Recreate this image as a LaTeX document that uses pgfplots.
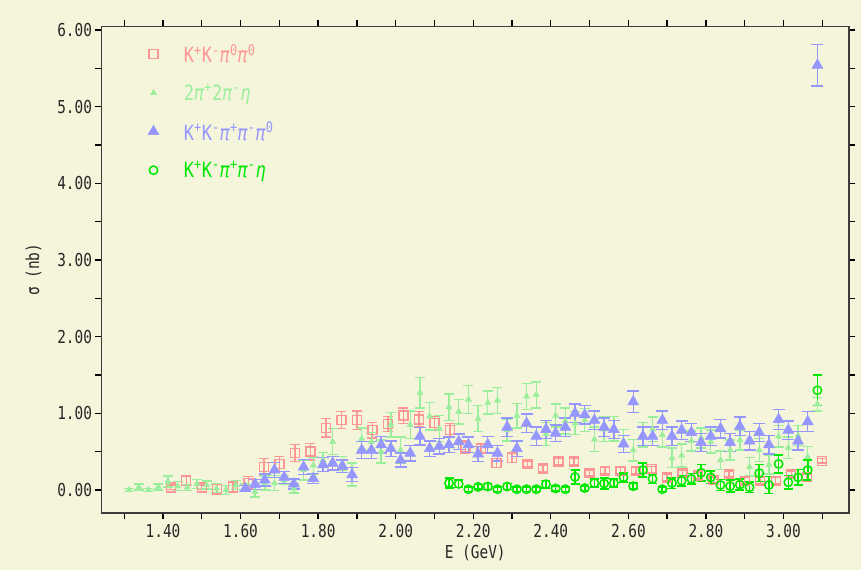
\documentclass[border=0pt]{standalone}
\usepackage{fontspec}
\usepackage{pgfplots}
\usepackage{pgfplotstable}
\pgfplotsset{compat=1.18}

\newfontfamily\plotfont[FakeStretch=0.81]{DejaVu Sans Mono}

\definecolor{bgc}{RGB}{245,245,220}
\definecolor{kkpizpiz}{RGB}{255,150,150}
\definecolor{fourpieta}{RGB}{155,238,155}
\definecolor{kkpipipiz}{RGB}{150,150,255}
\definecolor{kkpipieta}{RGB}{0,232,0}
\definecolor{framec}{RGB}{60,60,60}

% K+K- pi0 pi0
\pgfplotstableread{
E s e
1.42 0.035 0.03
1.46 0.12 0.06
1.50 0.035 0.03
1.54 0.01 0.06
1.58 0.04 0.07
1.62 0.095 0.08
1.66 0.30 0.11
1.70 0.34 0.10
1.74 0.48 0.11
1.78 0.50 0.11
1.82 0.81 0.12
1.86 0.91 0.11
1.90 0.91 0.12
1.94 0.78 0.10
1.98 0.86 0.10
2.02 0.97 0.10
2.06 0.92 0.10
2.10 0.87 0.09
2.14 0.78 0.09
2.18 0.56 0.08
2.22 0.54 0.06
2.26 0.35 0.06
2.30 0.42 0.06
2.34 0.34 0.04
2.38 0.28 0.04
2.42 0.37 0.04
2.46 0.37 0.04
2.50 0.22 0.04
2.54 0.25 0.04
2.58 0.25 0.04
2.62 0.25 0.04
2.66 0.27 0.04
2.70 0.165 0.04
2.74 0.22 0.04
2.78 0.19 0.04
2.82 0.13 0.04
2.86 0.21 0.04
2.90 0.12 0.04
2.94 0.12 0.04
2.98 0.12 0.04
3.02 0.21 0.04
3.06 0.17 0.04
3.10 0.38 0.03
}\tabKKpizpiz

% 2pi+ 2pi- eta
\pgfplotstableread{
E s e
1.3125 0.00 0.02
1.3375 0.04 0.04
1.3625 0.00 0.02
1.3875 0.04 0.04
1.4125 0.11 0.07
1.4375 0.05 0.06
1.4625 0.035 0.04
1.4875 0.08 0.06
1.5125 0.065 0.05
1.5375 0.02 0.06
1.5625 0.00 0.06
1.5875 0.065 0.06
1.6125 0.03 0.05
1.6375 -0.02 0.07
1.6625 0.09 0.09
1.6875 0.09 0.10
1.7125 0.13 0.06
1.7375 0.02 0.06
1.7625 0.26 0.13
1.7875 0.32 0.11
1.8125 0.39 0.10
1.8375 0.63 0.17
1.8625 0.35 0.09
1.8875 0.20 0.15
1.9125 0.67 0.14
1.9375 0.63 0.12
1.9625 0.50 0.15
1.9875 0.85 0.16
2.0125 0.52 0.17
2.0375 0.85 0.18
2.0625 1.27 0.20
2.0875 0.96 0.18
2.1125 0.80 0.17
2.1375 1.08 0.17
2.1625 1.02 0.16
2.1875 1.18 0.18
2.2125 0.93 0.17
2.2375 1.14 0.15
2.2625 1.17 0.17
2.2875 0.78 0.14
2.3125 0.97 0.16
2.3375 1.22 0.17
2.3625 1.24 0.17
2.3875 0.73 0.15
2.4125 0.97 0.15
2.4375 0.90 0.17
2.4625 0.87 0.15
2.4875 0.91 0.15
2.5125 0.66 0.16
2.5375 0.79 0.16
2.5625 0.80 0.16
2.5875 0.64 0.15
2.6125 0.52 0.14
2.6375 0.72 0.16
2.6625 0.79 0.16
2.6875 0.72 0.16
2.7125 0.42 0.13
2.7375 0.45 0.15
2.7625 0.64 0.13
2.7875 0.68 0.13
2.8125 0.63 0.15
2.8375 0.39 0.12
2.8625 0.52 0.13
2.8875 0.65 0.13
2.9125 0.30 0.12
2.9375 0.52 0.15
2.9625 0.33 0.12
2.9875 0.70 0.14
3.0125 0.55 0.14
3.0375 0.71 0.13
3.0625 0.43 0.14
3.0875 1.12 0.09
}\tabFourPiEta

% K+K- pi+ pi- pi0
\pgfplotstableread{
E s e
1.6125 0.02 0.04
1.6375 0.075 0.065
1.6625 0.13 0.08
1.6875 0.26 0.10
1.7125 0.165 0.08
1.7375 0.08 0.065
1.7625 0.30 0.10
1.7875 0.15 0.065
1.8125 0.33 0.09
1.8375 0.35 0.09
1.8625 0.31 0.08
1.8875 0.20 0.09
1.9125 0.52 0.11
1.9375 0.52 0.11
1.9625 0.59 0.11
1.9875 0.54 0.10
2.0125 0.39 0.09
2.0375 0.48 0.10
2.0625 0.70 0.115
2.0875 0.54 0.10
2.1125 0.57 0.10
2.1375 0.59 0.10
2.1625 0.63 0.10
2.1875 0.59 0.10
2.2125 0.47 0.10
2.2375 0.59 0.11
2.2625 0.48 0.10
2.2875 0.82 0.12
2.3125 0.54 0.10
2.3375 0.87 0.12
2.3625 0.70 0.12
2.3875 0.79 0.12
2.4125 0.74 0.11
2.4375 0.82 0.12
2.4625 1.00 0.12
2.4875 0.98 0.12
2.5125 0.91 0.12
2.5375 0.82 0.12
2.5625 0.79 0.12
2.5875 0.60 0.11
2.6125 1.15 0.14
2.6375 0.70 0.12
2.6625 0.70 0.12
2.6875 0.91 0.12
2.7125 0.70 0.12
2.7375 0.78 0.12
2.7625 0.75 0.12
2.7875 0.62 0.12
2.8125 0.70 0.12
2.8375 0.80 0.12
2.8625 0.62 0.12
2.8875 0.83 0.12
2.9125 0.64 0.12
2.9375 0.75 0.12
2.9625 0.59 0.12
2.9875 0.92 0.13
3.0125 0.78 0.12
3.0375 0.64 0.12
3.0625 0.89 0.13
3.0875 5.54 0.27
}\tabKKpipipiz

% K+K- pi+ pi- eta
\pgfplotstableread{
E s e
2.1375 0.09 0.065
2.1625 0.08 0.05
2.1875 0.01 0.03
2.2125 0.04 0.03
2.2375 0.045 0.04
2.2625 0.01 0.03
2.2875 0.045 0.04
2.3125 0.01 0.03
2.3375 0.01 0.03
2.3625 0.01 0.03
2.3875 0.075 0.05
2.4125 0.02 0.03
2.4375 0.01 0.03
2.4625 0.17 0.09
2.4875 0.025 0.03
2.5125 0.09 0.05
2.5375 0.085 0.07
2.5625 0.09 0.05
2.5875 0.165 0.06
2.6125 0.05 0.04
2.6375 0.26 0.09
2.6625 0.145 0.06
2.6875 0.01 0.03
2.7125 0.09 0.07
2.7375 0.12 0.07
2.7625 0.145 0.07
2.7875 0.225 0.11
2.8125 0.165 0.08
2.8375 0.065 0.07
2.8625 0.05 0.08
2.8875 0.07 0.07
2.9125 0.035 0.07
2.9375 0.22 0.11
2.9625 0.065 0.11
2.9875 0.34 0.12
3.0125 0.10 0.09
3.0375 0.165 0.10
3.0625 0.26 0.13
3.0875 1.30 0.20
}\tabKKpipieta

\begin{document}
\begin{tikzpicture}[x=1bp,y=1bp]
\fill[bgc] (-101.5,-56.7) rectangle (759.5,513.3);
\begin{axis}[
  at={(0,0)}, anchor=south west,
  scale only axis, width=747.5bp, height=486.8bp,
  xmin=1.2414, xmax=3.169, ymin=-0.304, ymax=6.045,
  axis background/.style={fill=bgc},
  axis line style={framec, line width=1.6bp},
  tick align=outside,
  major tick length=6bp, minor tick length=6bp,
  every tick/.style={black, line width=1.3bp},
  xtick={1.4,1.6,1.8,2.0,2.2,2.4,2.6,2.8,3.0},
  minor xtick={1.3,1.5,1.7,1.9,2.1,2.3,2.5,2.7,2.9,3.1},
  ytick={0,1,2,3,4,5,6},
  minor ytick={0.5,1.5,2.5,3.5,4.5,5.5},
  /pgf/number format/.cd, fixed, fixed zerofill, precision=2, assume math mode=true,
  /pgfplots/.cd,
  tick label style={font=\plotfont\fontsize{17.8bp}{20bp}\selectfont, text=black!85},
  xticklabel style={yshift=-1bp},
  label style={font=\plotfont\fontsize{17.8bp}{20bp}\selectfont, text=black!85},
  xlabel={E (GeV)},
  ylabel={σ (nb)},
  xlabel style={at={(axis description cs:0.5,-0.082)}, anchor=center},
  ylabel style={at={(axis description cs:-0.091,0.5)}, anchor=center},
  legend cell align=left,
  legend style={draw=none, fill=none, at={(axis description cs:0.058,0.972)}, anchor=north west,
    font=\plotfont\fontsize{21bp}{23bp}\selectfont, row sep=16bp,
    nodes={inner sep=2bp},
    /tikz/every odd column/.append style={column sep=23bp}},
  error bars/error bar style={line width=1.4bp},
]
\addplot[only marks, mark=square, mark size=4.5bp,
  mark options={kkpizpiz, line width=1.4bp},
  error bars/.cd, y dir=both, y explicit,
  error bar style={kkpizpiz},
  error mark options={kkpizpiz, line width=1.4bp, mark size=5bp, rotate=90}]
  table[x=E, y=s, y error=e] {\tabKKpizpiz};
\addlegendentry{\textcolor{kkpizpiz}{K\textsuperscript{+}K\textsuperscript{-}\textit{π}\textsuperscript{0}\textit{π}\textsuperscript{0}}}

\addplot[only marks, mark=triangle*, mark size=3.5bp,
  mark options={fourpieta, fill=fourpieta, line width=0.5bp},
  error bars/.cd, y dir=both, y explicit,
  error bar style={fourpieta},
  error mark options={fourpieta, line width=1.4bp, mark size=5bp, rotate=90}]
  table[x=E, y=s, y error=e] {\tabFourPiEta};
\addlegendentry{\textcolor{fourpieta}{2\textit{π}\textsuperscript{+}2\textit{π}\textsuperscript{-}\textit{η}}}

\addplot[only marks, mark=triangle*, mark size=6.3bp,
  mark options={kkpipipiz, fill=kkpipipiz, line width=0.5bp},
  error bars/.cd, y dir=both, y explicit,
  error bar style={kkpipipiz},
  error mark options={kkpipipiz, line width=1.4bp, mark size=6bp, rotate=90}]
  table[x=E, y=s, y error=e] {\tabKKpipipiz};
\addlegendentry{\textcolor{kkpipipiz}{K\textsuperscript{+}K\textsuperscript{-}\textit{π}\textsuperscript{+}\textit{π}\textsuperscript{-}\textit{π}\textsuperscript{0}}}

\addplot[only marks, mark=o, mark size=4.2bp,
  mark options={kkpipieta, line width=1.5bp},
  error bars/.cd, y dir=both, y explicit,
  error bar style={kkpipieta, line width=1.6bp},
  error mark options={kkpipieta, line width=1.6bp, mark size=4.5bp, rotate=90}]
  table[x=E, y=s, y error=e] {\tabKKpipieta};
\addlegendentry{\textcolor{kkpipieta}{K\textsuperscript{+}K\textsuperscript{-}\textit{π}\textsuperscript{+}\textit{π}\textsuperscript{-}\textit{η}}}
\end{axis}
\pgfresetboundingbox
\useasboundingbox (-101.5,-56.7) rectangle (759.5,513.3);
\end{tikzpicture}
\end{document}
